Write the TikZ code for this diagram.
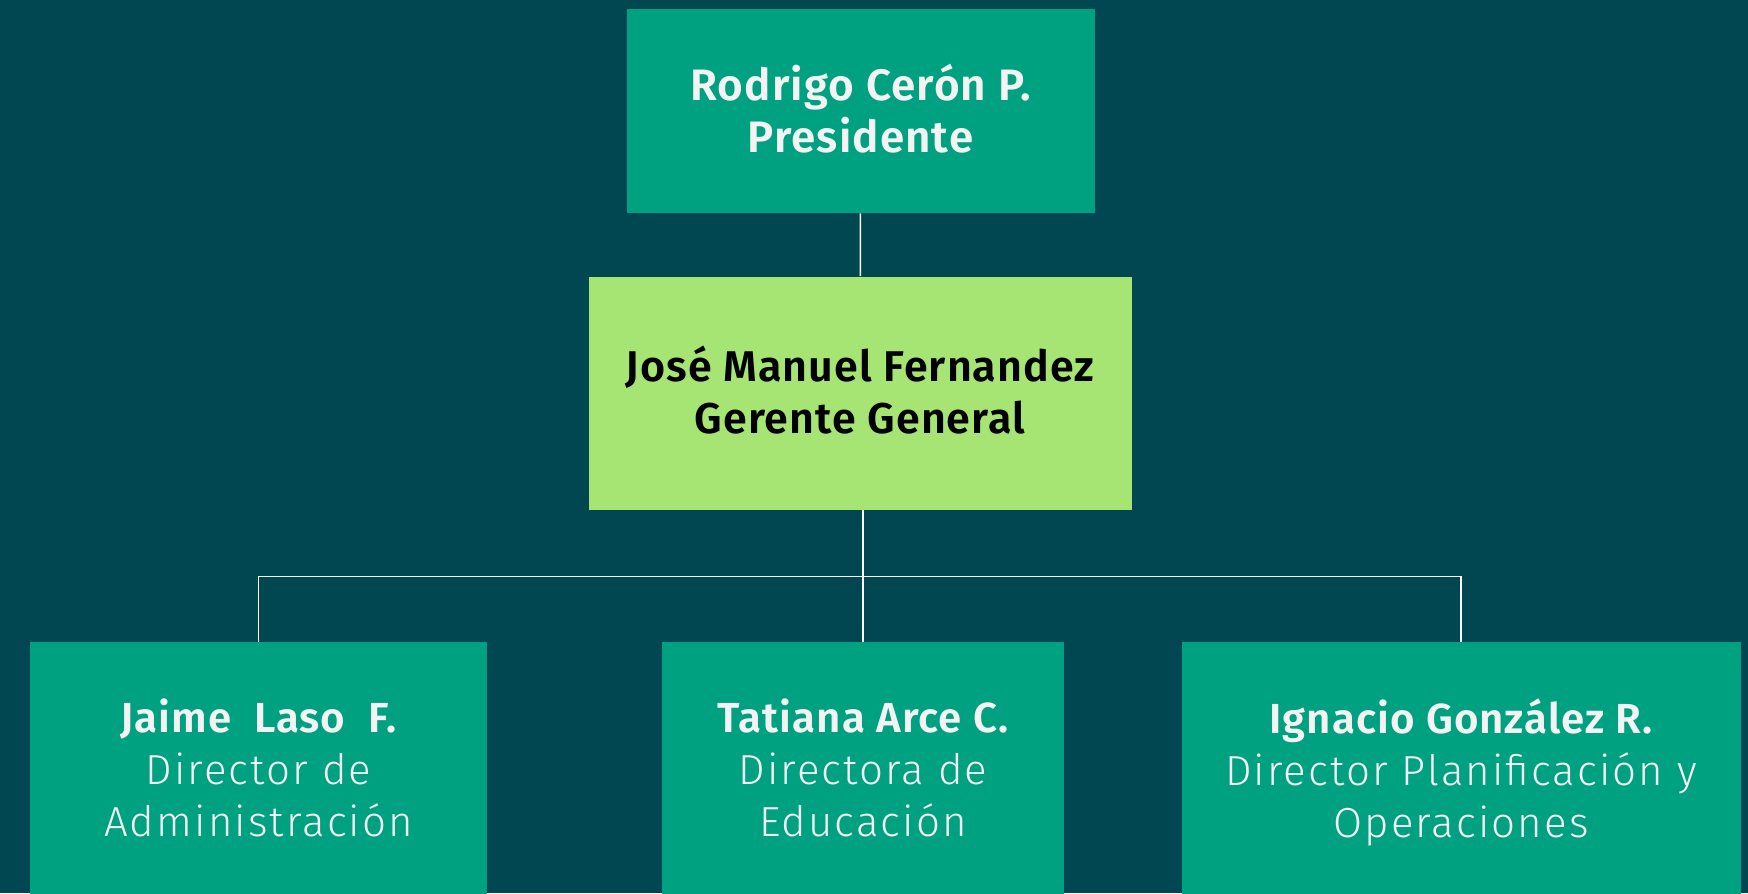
\documentclass[tikz,border=0pt]{standalone}
\usepackage{fontspec}
\setmainfont{Fira Sans}
\newfontfamily\namefont[LetterSpace=2.5]{Fira Sans SemiBold}
\newfontfamily\rolefont[LetterSpace=5]{Fira Sans Light}
\usepackage{tikz}
\usetikzlibrary{positioning}

\definecolor{bgteal}{RGB}{0,71,82}
\definecolor{boxgreen}{RGB}{0,161,128}
\definecolor{boxlime}{RGB}{166,229,115}
\definecolor{txtwhite}{RGB}{243,243,243}

\begin{document}
\begin{tikzpicture}[x=0.5pt,y=-0.5pt,
    card/.style={fill=boxgreen, text=txtwhite, align=center, inner sep=0pt, text depth=3pt},
    boss/.style={fill=boxlime, text=black, align=center, inner sep=0pt, text depth=3pt},
    link/.style={draw=white, line width=0.75pt}]
            % Canvas
            \fill[bgteal] (0,0) rectangle (1748,893);
            \useasboundingbox (0,0) rectangle (1748,893);
            \clip (0,0) rectangle (1748,893);

            % Top level
            \node[card, minimum width=234pt, minimum height=102pt,
                font=\namefont\fontsize{22}{26}\selectfont] (pres) at (860.6,111)
                {Rodrigo Cerón P.\\Presidente};
            \node[boss, minimum width=271.5pt, minimum height=116.5pt,
                font=\namefont\fontsize{21.5}{26}\selectfont] (gerente) at (860,393)
                {José Manuel Fernandez\\Gerente General};

            % Directors
            \node[card, minimum width=228.5pt, minimum height=129pt,
                font=\rolefont\fontsize{21}{26}\selectfont] (admin) at (258.5,771)
                {{\namefont Jaime\ \ Laso\ \ F.}\\Director de\\Administración};
            \node[card, minimum width=201pt, minimum height=129pt,
                font=\rolefont\fontsize{21}{26}\selectfont] (educ) at (862.9,771)
                {{\namefont Tatiana Arce C.}\\Directora de\\Educación};
            \node[card, minimum width=279.5pt, minimum height=129pt,
                font=\rolefont\fontsize{21}{26}\selectfont] (ops) at (1461,771)
                {{\namefont Ignacio González R.}\\Director Planificación y\\Operaciones};

            % Connectors
            \coordinate (bus) at (863,576.5);
            \draw[link] (pres) -- (gerente);
            \draw[link] (gerente.south -| bus) -- (bus);
            \draw[link] (admin.north) |- (bus) -| (ops.north);
            \draw[link] (bus) -- (educ.north -| bus);
\end{tikzpicture}
\end{document}
